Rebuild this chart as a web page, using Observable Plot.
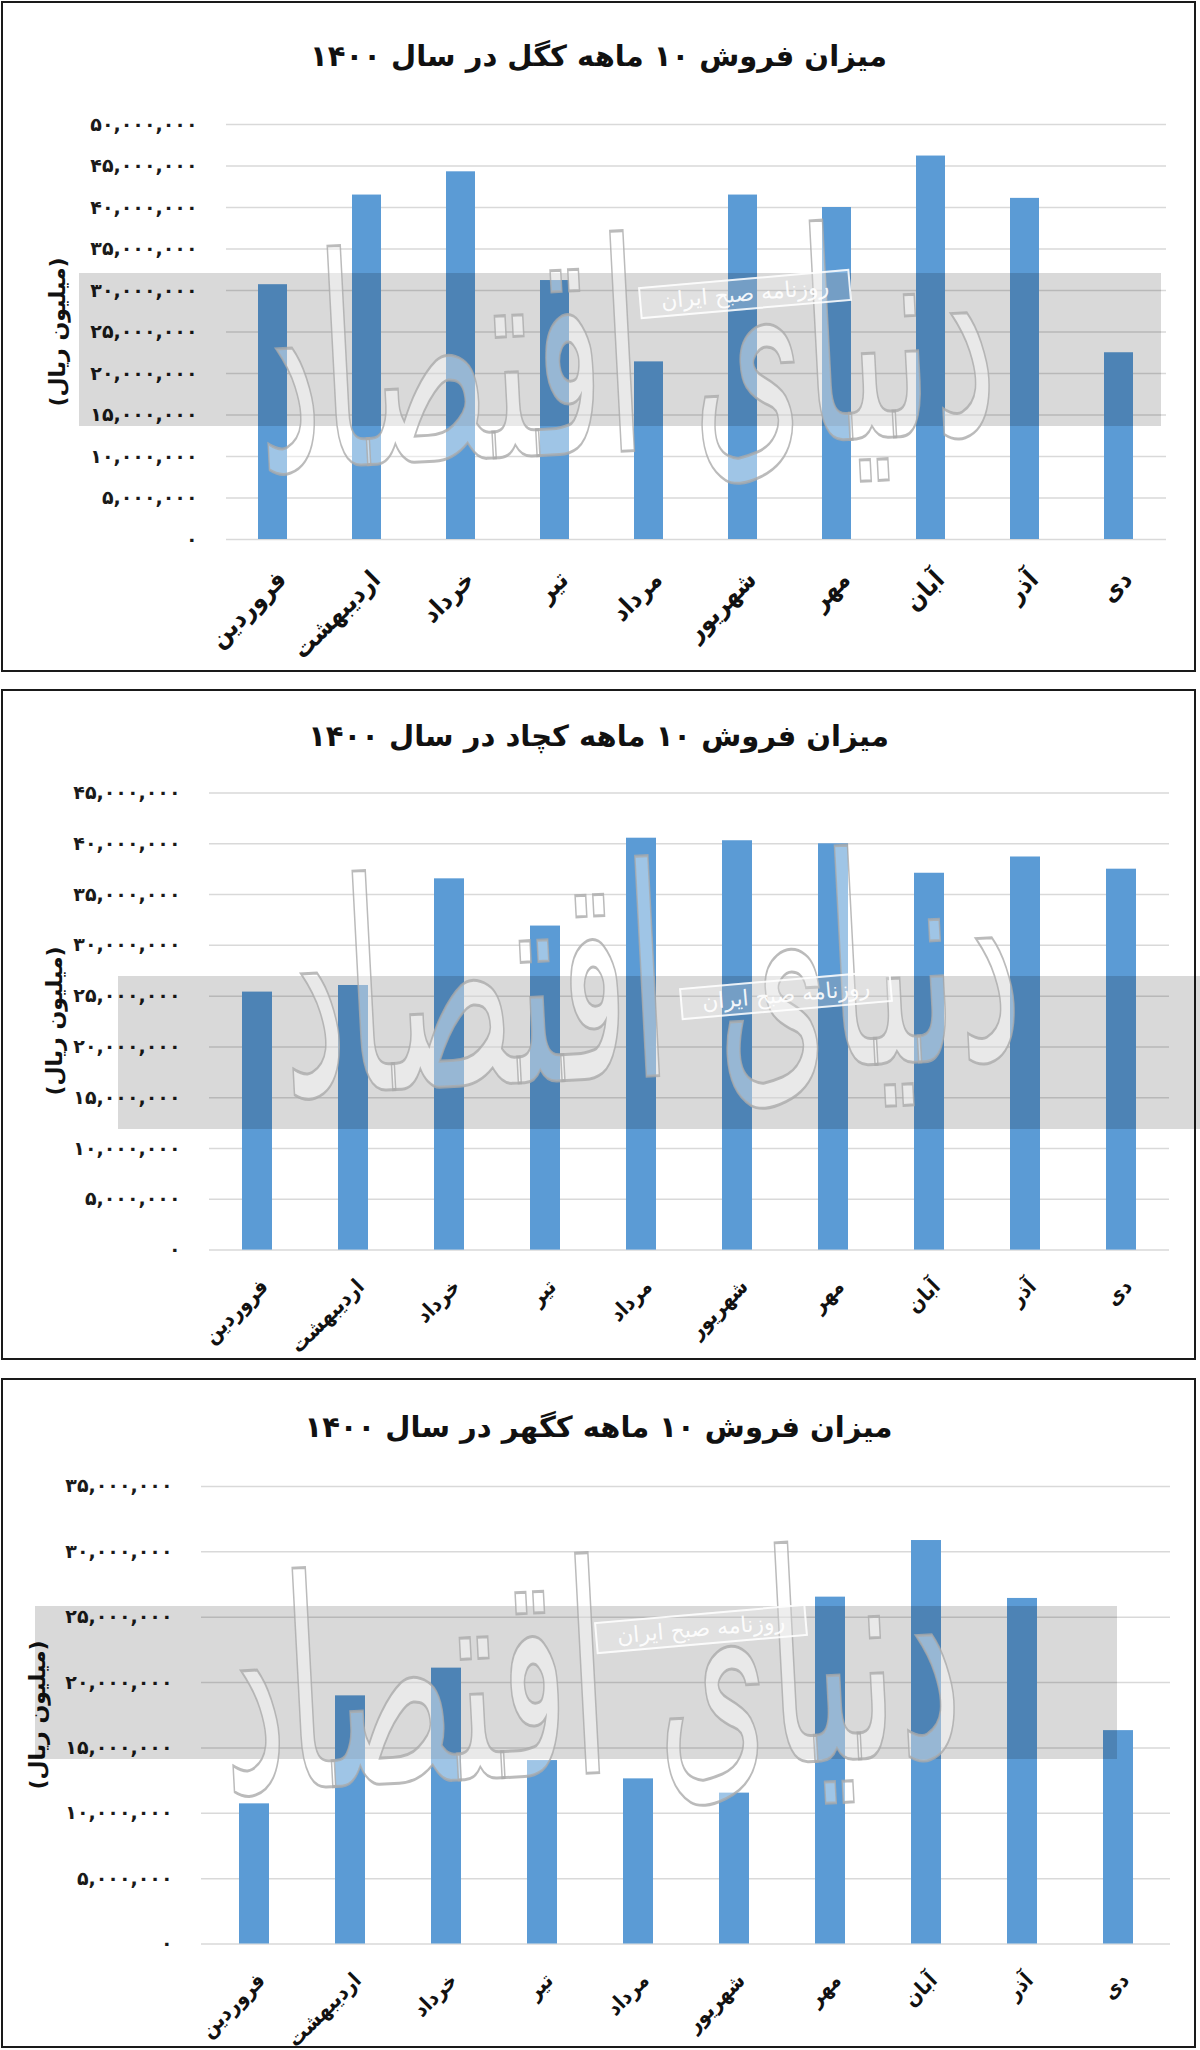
<!DOCTYPE html>
<html>
<head>
<meta charset="utf-8">
<script src="https://cdn.jsdelivr.net/npm/d3@7"></script>
<script src="https://cdn.jsdelivr.net/npm/@observablehq/plot@0.6"></script>
<style>
  html, body { margin: 0; padding: 0; background: #fff; }
  body { width: 1200px; height: 2050px; position: relative; font-family: "DejaVu Sans", sans-serif; overflow: hidden; }
  .panel { position: absolute; left: 1px; width: 1195px; box-sizing: border-box; border: 2px solid #1a1a1a; background: #fff; }
  .title { display: flex; align-items: center; justify-content: center; font-weight: bold; font-size: 29px; color: #111; direction: rtl; }
  .panel svg { display: block; }
  .ylabel { position: absolute; font-weight: bold; font-size: 22px; color: #111; white-space: nowrap; direction: rtl;
            transform: translate(-50%,-50%) rotate(-90deg); }
  .band { position: absolute; background: rgba(0,0,0,0.15); pointer-events: none; }
  .stamp { position: absolute; width: 212px; height: 32px; box-sizing: border-box; border: 2px solid rgba(255,255,255,0.85);
           background: rgba(255,255,255,0.22); color: rgba(255,255,255,0.92); font-size: 22px; line-height: 28px;
           text-align: center; direction: rtl; transform: translate(-50%,-50%) rotate(-5deg); pointer-events: none; white-space: nowrap; }
  .callig { position: absolute; font-size: 145px; line-height: 1; white-space: nowrap; direction: rtl; color: rgba(255,255,255,0.42);
            -webkit-text-stroke: 1.5px rgba(170,170,170,0.8); transform: translate(-50%,-50%) rotate(-3deg) scale(1, 2); pointer-events: none; }
</style>
</head>
<body>
<script>
// ---- data ----
const months = ["فروردین", "اردیبهشت", "خرداد", "تیر", "مرداد", "شهریور", "مهر", "آبان", "آذر", "دی"];

const titleKegel   = "میزان فروش ۱۰ ماهه کگل در سال ۱۴۰۰";
const titleKechad  = "میزان فروش ۱۰ ماهه کچاد در سال ۱۴۰۰";
const titleKegohar = "میزان فروش ۱۰ ماهه کگهر در سال ۱۴۰۰";
const yAxisLabel = "(میلیون ریال)";
const stampText = "روزنامه صبح ایران";
const watermarkText = "دنیای اقتصاد";

const kegelSales   = [30700000, 41500000, 44300000, 31200000, 21400000, 41500000, 40000000, 46200000, 41100000, 22500000];
const kechadSales  = [25400000, 26050000, 36550000, 31900000, 40550000, 40300000, 40000000, 37100000, 38700000, 37500000];
const kegoharSales = [10720000, 18980000, 21100000, 14030000, 12630000, 11540000, 26530000, 30860000, 26430000, 16320000];

const kegelTicks   = [0, 5000000, 10000000, 15000000, 20000000, 25000000, 30000000, 35000000, 40000000, 45000000, 50000000];
const kechadTicks  = [0, 5000000, 10000000, 15000000, 20000000, 25000000, 30000000, 35000000, 40000000, 45000000];
const kegoharTicks = [0, 5000000, 10000000, 15000000, 20000000, 25000000, 30000000, 35000000];

// ---- helpers ----
const faDigits = "۰۱۲۳۴۵۶۷۸۹";
const fa = d => d3.format(",")(d).replace(/[0-9]/g, c => faDigits[+c]);

const charts = [
  { title: titleKegel, values: kegelSales, ticks: kegelTicks, top: 1, height: 671, titleH: 106,
    svgH: 561, mt: 15, mb: 131, ml: 223, mr: 28, ylab: [57, 332], xFont: 25, xdx: 9, xdy: 36,
    band: [79, 273, 1082, 153], stamp: [745, 294], callig: [625, 350] },
  { title: titleKechad, values: kechadSales, ticks: kechadTicks, top: 689, height: 671, titleH: 90,
    svgH: 577, mt: 11.5, mb: 108.4, ml: 206, mr: 25, ylab: [54, 1021], xFont: 21, xdx: 7, xdy: 33,
    band: [118, 976, 1082, 153], stamp: [786, 995], callig: [650, 975] },
  { title: titleKegohar, values: kegoharSales, ticks: kegoharTicks, top: 1378, height: 670, titleH: 94,
    svgH: 572, mt: 11.9, mb: 102.5, ml: 198, mr: 24, ylab: [37, 1715], xFont: 21, xdx: 7, xdy: 33,
    band: [35, 1606, 1082, 153], stamp: [701, 1629], callig: [590, 1672] }
];

for (const c of charts) {
  const panel = document.createElement("div");
  panel.className = "panel";
  panel.style.top = c.top + "px";
  panel.style.height = c.height + "px";

  const t = document.createElement("div");
  t.className = "title";
  t.style.height = c.titleH + "px";
  t.textContent = c.title;
  panel.appendChild(t);

  const data = months.map((m, i) => ({month: m, value: c.values[i]}));
  const maxTick = c.ticks[c.ticks.length - 1];

  const svg = Plot.plot({
    width: 1191,
    height: c.svgH,
    marginTop: c.mt,
    marginBottom: c.mb,
    marginLeft: c.ml,
    marginRight: c.mr,
    style: { fontFamily: "DejaVu Sans, sans-serif", background: "transparent", overflow: "visible", color: "#111" },
    x: { domain: months, paddingInner: 0.69, paddingOuter: 0.345, label: null, axis: null },
    y: { domain: [0, maxTick], label: null },
    marks: [
      Plot.gridY(c.ticks, { stroke: "#d9d9d9", strokeOpacity: 1, strokeWidth: 1.5 }),
      Plot.barY(data, { x: "month", y: "value", fill: "#5b9bd5" }),
      Plot.axisY({ ticks: c.ticks, tickSize: 0, tickPadding: 29, tickFormat: fa, fontSize: 19, fontWeight: "bold", fill: "#1a1a1a", label: null }),
      Plot.text(months, { x: d => d, frameAnchor: "bottom", dx: c.xdx, dy: c.xdy, rotate: -45, textAnchor: "end", lineAnchor: "middle",
        fontSize: c.xFont, fontWeight: "bold", fontFamily: "DejaVu Sans Condensed, DejaVu Sans, sans-serif", fill: "#111" })
    ]
  });
  panel.appendChild(svg);
  document.body.appendChild(panel);

  const yl = document.createElement("div");
  yl.className = "ylabel";
  yl.style.left = c.ylab[0] + "px";
  yl.style.top = c.ylab[1] + "px";
  yl.textContent = yAxisLabel;
  document.body.appendChild(yl);

  // watermark overlay
  const band = document.createElement("div");
  band.className = "band";
  band.style.left = c.band[0] + "px";
  band.style.top = c.band[1] + "px";
  band.style.width = c.band[2] + "px";
  band.style.height = c.band[3] + "px";
  document.body.appendChild(band);

  const cal = document.createElement("div");
  cal.className = "callig";
  cal.style.left = c.callig[0] + "px";
  cal.style.top = c.callig[1] + "px";
  cal.textContent = watermarkText;
  document.body.appendChild(cal);

  const st = document.createElement("div");
  st.className = "stamp";
  st.style.left = c.stamp[0] + "px";
  st.style.top = c.stamp[1] + "px";
  st.textContent = stampText;
  document.body.appendChild(st);
}
</script>
</body>
</html>
